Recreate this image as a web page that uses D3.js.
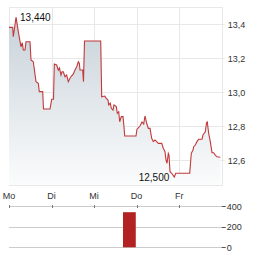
<!DOCTYPE html>
<html>
<head>
<meta charset="utf-8">
<script src="https://cdn.jsdelivr.net/npm/d3@7"></script>
<style>
  body { margin: 0; background: #fff; }
  svg { display: block; font-family: "Liberation Sans", Arial, sans-serif; }
</style>
</head>
<body>
<svg id="chart" width="264" height="255"></svg>
<script>
// trading days shown on the x axis
const days = ['Mo', 'Di', 'Mi', 'Do', 'Fr']

// price series: time in days since Monday open, price
const priceTimes = [0, 0.087, 0.101, 0.165, 0.219, 0.282, 0.313, 0.336, 0.376, 0.4, 0.494, 0.517, 0.571, 0.635, 0.689,
  0.712, 0.792, 0.811, 0.964, 1.004, 1.046, 1.065, 1.121, 1.159, 1.187, 1.222, 1.246, 1.276, 1.316, 1.356, 1.394,
  1.434, 1.469, 1.512, 1.551, 1.591, 1.629, 1.653, 1.669, 1.732, 1.751, 1.775, 2.156, 2.179, 2.25, 2.287, 2.327,
  2.344, 2.381, 2.405, 2.445, 2.468, 2.522, 2.546, 2.579, 2.602, 2.64, 2.68, 2.703, 2.72, 2.985, 3.009, 3.079,
  3.126, 3.166, 3.197, 3.237, 3.275, 3.315, 3.354, 3.392, 3.432, 3.472, 3.51, 3.59, 3.627, 3.667, 3.691, 3.715,
  3.745, 3.761, 3.785, 3.825, 3.886, 3.919, 4.248, 4.285, 4.325, 4.342, 4.379, 4.419, 4.459, 4.537, 4.56, 4.615,
  4.643, 4.661, 4.694, 4.732, 4.772, 4.812, 4.849, 4.889, 4.967]
const priceValues = [13.38, 13.38, 13.325, 13.44, 13.355, 13.266, 13.29, 13.247, 13.247, 13.296, 13.296, 13.188,
  13.178, 13.061, 13.051, 13.002, 13.002, 12.9, 12.9, 12.957, 12.958, 13.165, 13.159, 13.129, 13.141, 13.1, 13.119,
  13.119, 13.09, 13.1, 13.061, 13.081, 13.094, 13.106, 13.129, 13.149, 13.178, 13.169, 13.129, 13.129, 13.061,
  13.3, 13.3, 12.972, 12.976, 12.963, 12.953, 12.924, 12.934, 12.904, 12.894, 12.924, 12.914, 12.875, 12.884,
  12.825, 12.855, 12.855, 12.796, 12.741, 12.741, 12.781, 12.8, 12.824, 12.812, 12.859, 12.816, 12.786, 12.786,
  12.728, 12.708, 12.718, 12.708, 12.698, 12.698, 12.669, 12.649, 12.6, 12.581, 12.639, 12.629, 12.531, 12.522,
  12.5, 12.522, 12.522, 12.639, 12.659, 12.678, 12.688, 12.708, 12.722, 12.722, 12.747, 12.766, 12.819, 12.824,
  12.757, 12.708, 12.643, 12.643, 12.629, 12.619, 12.616]

const priceTicks = [12.6, 12.8, 13.0, 13.2, 13.4]

// volume
const volTimes = [2.83]
const volValues = [340]
const volTicks = [0, 200, 400]

const svg = d3.select('#chart')
const margin = { left: 9, right: 221.7, top: 7, bottom: 185 }

const x = d3.scaleLinear().domain([0, 5]).range([margin.left, margin.right])
const y = d3.scaleLinear().domain([12.453, 13.5]).range([margin.bottom, margin.top])
const yv = d3.scaleLinear().domain([0, 400]).range([247.3, 206])

const de = d3.formatLocale({ decimal: ',', thousands: '.', grouping: [3], currency: ['', '€'] })
const fmt1 = de.format('.1f'), fmt3 = de.format('.3f')

const data = priceTimes.map((t, i) => ({ t: t, v: priceValues[i] }))

// gradient for the area
const grad = svg.append('defs').append('linearGradient')
  .attr('id', 'g').attr('x1', 0).attr('x2', 0).attr('y1', 0).attr('y2', 1)
grad.append('stop').attr('offset', '0%').attr('stop-color', '#c8d2da')
grad.append('stop').attr('offset', '100%').attr('stop-color', '#fbfcfc')

// grid
svg.append('g').selectAll('line').data(priceTicks).join('line')
  .attr('x1', margin.left).attr('x2', margin.right + 3)
  .attr('y1', d => Math.round(y(d)) + 0.5).attr('y2', d => Math.round(y(d)) + 0.5)
  .attr('stroke', '#e8e8e8')
svg.append('g').selectAll('line').data(d3.range(1, 5)).join('line')
  .attr('x1', d => Math.round(x(d)) + 0.5).attr('x2', d => Math.round(x(d)) + 0.5)
  .attr('y1', margin.top).attr('y2', margin.bottom)
  .attr('stroke', '#e8e8e8')
svg.append('rect')
  .attr('x', margin.left + 0.5).attr('y', margin.top + 0.5)
  .attr('width', Math.round(margin.right - margin.left)).attr('height', margin.bottom - margin.top)
  .attr('fill', 'none').attr('stroke', '#e8e8e8')

// area + line
svg.append('path').datum(data)
  .attr('fill', 'url(#g)')
  .attr('d', d3.area().x(d => x(d.t)).y0(margin.bottom).y1(d => y(d.v)))
svg.append('path').datum(data)
  .attr('fill', 'none').attr('stroke', '#c0393b').attr('stroke-width', 1.1)
  .attr('d', d3.line().x(d => x(d.t)).y(d => y(d.v)))

// max / min labels
const maxD = data.reduce((a, b) => b.v > a.v ? b : a)
const minD = data.reduce((a, b) => b.v < a.v ? b : a)
svg.append('text').attr('x', x(maxD.t) + 4).attr('y', y(maxD.v) + 4)
  .attr('font-size', 10).attr('fill', '#111').text(fmt3(maxD.v))
svg.append('text').attr('x', x(minD.t) - 5).attr('y', y(minD.v) + 3.5)
  .attr('text-anchor', 'end').attr('font-size', 10).attr('fill', '#111').text(fmt3(minD.v))

// price labels on right
svg.append('g').selectAll('text').data(priceTicks).join('text')
  .attr('x', margin.right + 6).attr('y', d => y(d) + 3.5)
  .attr('font-size', 9).attr('fill', '#333').text(d => fmt1(d))

// day labels
svg.append('g').selectAll('text').data(days).join('text')
  .attr('x', (d, i) => x(i)).attr('y', 199)
  .attr('text-anchor', 'middle').attr('font-size', 9).attr('fill', '#333').text(d => d)

// volume panel
svg.append('g').selectAll('line').data(volTicks).join('line')
  .attr('x1', margin.left).attr('x2', margin.right)
  .attr('y1', d => Math.round(yv(d)) + 0.5).attr('y2', d => Math.round(yv(d)) + 0.5)
  .attr('stroke', '#cccccc')
svg.append('g').selectAll('line').data(d3.range(0, 5)).join('line')
  .attr('x1', d => Math.round(x(d)) + 0.5).attr('x2', d => Math.round(x(d)) + 0.5)
  .attr('y1', Math.round(yv(400)) - 1).attr('y2', Math.round(yv(400)) + 2)
  .attr('stroke', '#777')
svg.append('g').selectAll('line').data(volTicks).join('line')
  .attr('x1', margin.right).attr('x2', margin.right + 4)
  .attr('y1', d => Math.round(yv(d)) + 0.5).attr('y2', d => Math.round(yv(d)) + 0.5)
  .attr('stroke', '#555')
svg.append('g').selectAll('text').data(volTicks).join('text')
  .attr('x', margin.right + 5).attr('y', d => yv(d) + 3.5)
  .attr('font-size', 9).attr('fill', '#333').text(d => d)

const barW = x(0.3) - x(0)
svg.append('g').selectAll('rect').data(volValues).join('rect')
  .attr('x', (d, i) => x(volTimes[i]) - barW / 2)
  .attr('y', d => yv(d))
  .attr('width', barW)
  .attr('height', d => yv(0) - yv(d))
  .attr('fill', '#b22222')
</script>
</body>
</html>
